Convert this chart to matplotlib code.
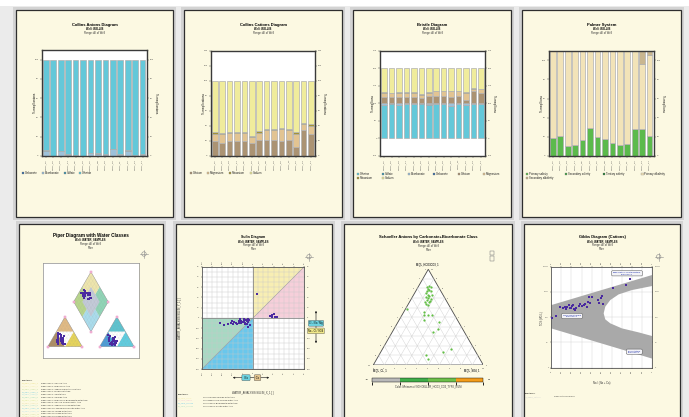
import numpy as np
import matplotlib.pyplot as plt
from matplotlib.patches import Rectangle, Polygon, Circle
from matplotlib.colors import ListedColormap, BoundaryNorm
from matplotlib.cm import ScalarMappable

plt.rcParams["font.family"] = ["Liberation Sans", "DejaVu Sans"]

W, H = 689, 417

# ---------------- bar chart data (% meq/l per sample) ----------------
samples = ["WELL_01", "WELL_02", "WELL_03", "WELL_04", "WELL_05", "WELL_06", "WELL_07",
           "WELL_08", "WELL_09", "WELL_10", "WELL_11", "WELL_12", "WELL_13", "WELL_14"]

carbonate = [0.0, 0.0, 0.0, 0.0, 0.0, 0.0, 0.0, 0.0, 0.0, 0.0, 0.0, 0.0, 0.0, 0.0]
bicarbonate = [5.0, 0.3, 5.0, 1.5, 0.5, 0.2, 3.0, 2.5, 0.8, 7.0, 1.5, 5.0, 0.5, 0.8]
sulfate = [1.0, 0.2, 0.6, 0.8, 0.8, 0.3, 0.5, 0.6, 0.8, 0.6, 0.5, 1.0, 0.5, 1.0]
chloride = [94.0, 99.5, 94.4, 97.7, 98.7, 99.5, 96.5, 96.9, 98.4, 92.4, 98.0, 94.0, 99.0, 98.2]

calcium = [19.5, 17.0, 19.5, 19.5, 19.5, 16.4, 20.4, 20.4, 20.4, 19.0, 21.0, 11.0, 34.0, 29.0]
magnesium = [10.1, 12.0, 11.5, 11.0, 11.0, 8.6, 10.1, 14.1, 13.6, 16.4, 13.0, 18.6, 8.0, 11.0]
potassium = [1.8, 1.0, 1.3, 1.5, 1.5, 2.0, 2.5, 1.5, 1.4, 1.3, 2.0, 1.8, 2.0, 2.0]
sodium = [68.6, 70.0, 67.7, 68.0, 68.0, 73.0, 67.0, 64.0, 64.6, 63.3, 64.0, 68.6, 56.0, 58.0]

primary_salinity = [19.0, 21.0, 10.5, 12.0, 17.0, 29.0, 20.0, 18.0, 14.0, 11.5, 13.0, 28.7, 28.7, 21.0]
secondary_salinity = [0, 0, 0, 0, 0, 0, 0, 0, 0, 0, 0, 0, 0, 0]
tertiary_salinity = [0, 0, 0, 0, 0, 0, 0, 0, 0, 0, 0, 0, 0, 0]
primary_alkalinity = [91.0, 89.0, 99.5, 98.0, 93.0, 81.0, 90.0, 92.0, 96.0, 98.5, 97.0, 81.3, 67.8, 84.0]
secondary_alkalinity = [0, 0, 0, 0, 0, 0, 0, 0, 0, 0, 0, 0, 13.5, 5.0]

# ---------------- Piper samples (%) ----------------
piper_mg = [10, 15, 20, 25, 30, 35, 40, 45, 12, 18, 22, 28, 32, 38, 8, 14, 20, 26, 30, 16, 24, 42, 10, 36]
piper_na = [25, 22, 20, 18, 15, 12, 10, 8, 35, 30, 28, 25, 22, 20, 40, 38, 35, 32, 30, 18, 14, 15, 45, 28]
piper_so4 = [15, 10, 20, 12, 25, 30, 35, 18, 8, 14, 22, 28, 5, 10, 16, 6, 20, 32, 12, 24, 38, 8, 18, 26]
piper_cl = [28, 26, 30, 28, 25, 12, 14, 18, 38, 40, 32, 26, 32, 36, 36, 42, 38, 28, 40, 14, 6, 32, 40, 30]

# ---------------- Sulin samples ----------------
sulin_x = [-32.6, -28.3, -24.1, -21.8, -20.2, -18.6, -16.9, -14.3, -12.7, -11.4, -10.4, -9.4, -8.8,
           -7.8, -7.2, -6.5, -6.2, -5.5, -4.6, -3.9, -3.3, -5.5, -8.1, -11.7, -13.7, -15.6, -19.5,
           3.6, 16.6, 18.9, 20.5, 22.1, 23.8, 21.2, 18.2]
sulin_y = [-5.5, -7.2, -6.2, -4.6, -3.3, -3.9, -5.2, -2.9, -1.6, -2.6, -3.9, -1.6, -2.9,
           -4.6, -2.0, -5.9, -3.3, -1.3, -3.9, -2.3, -7.2, -8.8, -6.5, -4.6, -4.9, -6.2, -5.9,
           23.8, 1.6, 2.6, 3.3, 1.0, 0.7, 0.7, 1.0]

# ---------------- Schoeller ternary samples (%) ----------------
sch_hco3 = [82, 83, 81, 79, 77, 78, 77, 75, 73, 72, 71, 70, 69, 68, 66, 66, 64, 63, 67, 73,
            58, 55, 52, 52, 52, 47, 45, 38, 34, 17, 14, 10, 6]
sch_so4 = [8, 9, 12, 10, 10, 12, 14, 10, 13, 15, 12, 15, 18, 15, 14, 18, 16, 18, 18, 17,
           2, 19, 20, 24, 27, 23, 37, 40, 37, 62, 56, 43, 47]
sch_classes = [-0.5, 0.5, 1.5, 2.5, 3.5]
sch_colors = ["#b9b9b9", "#3fae49", "#6cc04a", "#f39c1a"]

# ---------------- Gibbs samples ----------------
gibbs_ratio = [0.007, 0.05, 0.089, 0.113, 0.132, 0.146, 0.159, 0.172, 0.182, 0.192, 0.205, 0.212,
               0.222, 0.232, 0.245, 0.272, 0.288, 0.305, 0.321, 0.338, 0.354, 0.364, 0.371, 0.387,
               0.404, 0.464, 0.477, 0.497, 0.503, 0.513, 0.609, 0.742, 0.785]
gibbs_tds = [90, 115, 253, 224, 245, 210, 260, 295, 240, 224, 270, 303, 210, 198, 240, 277, 323,
             285, 303, 342, 260, 386, 647, 375, 610, 480, 375, 590, 710, 342, 1480, 1880, 3160]
gibbs_poly_ratio = [0.0, 1.0, 1.0, 0.801, 0.669, 0.586, 0.536, 0.52, 0.536, 0.586, 0.702, 0.868,
                    1.0, 1.0, 0.0]
gibbs_poly_tds = [302, 4680, 1715, 1190, 802, 479, 261, 142, 82, 57, 36, 25, 18, 2.3, 36]


def box(x0, y0, x1, y1):
    return [x0 / W, 1 - y1 / H, (x1 - x0) / W, (y1 - y0) / H]


fig = plt.figure(figsize=(W / 100, H / 100), dpi=100, facecolor="#ebebeb")

back = fig.add_axes([0, 0, 1, 1], zorder=-10)
back.set_xlim(0, W)
back.set_ylim(H, 0)
back.axis("off")
back.add_patch(Rectangle((0, 0), W, 6, fc="white", ec="none"))
panels = [(16, 10, 173, 217), (184, 10, 342, 217), (353, 10, 511, 217), (522, 10, 681, 217),
          (19, 224, 163, 425), (176, 224, 332, 425), (344, 224, 512, 425), (524, 224, 680, 425)]
for x0, y0, x1, y1 in panels:
    back.add_patch(Rectangle((x0 - 3, y0 - 3), x1 - x0 + 6, y1 - y0 + 6, fc="#d3d3d3", ec="none"))
    back.add_patch(Rectangle((x0, y0), x1 - x0, y1 - y0, fc="#fcf9e2", ec="#2e2e2e", lw=0.9))

top = fig.add_axes([0, 0, 1, 1], zorder=20)
top.set_xlim(0, W)
top.set_ylim(H, 0)
top.axis("off")
top.patch.set_visible(False)


def txt(x, y, s, size, **kw):
    kw.setdefault("ha", "center")
    kw.setdefault("va", "center")
    top.text(x, y, s, fontsize=size, **kw)


def titles(cx, y, lines, size):
    for i, s in enumerate(lines):
        if i == 0:
            txt(cx, y, s, size, weight="bold")
        elif i == 1:
            txt(cx, y + 4.6 + (i - 1) * 4, s, 1.9, weight="bold")
        else:
            txt(cx, y + 4.6 + (i - 1) * 4, s, 1.9, color="#333333")


def legend_items(xs, ys, labels, colors):
    for x, y, lab, col in zip(xs, ys, labels, colors):
        top.add_patch(Rectangle((x, y - 1.1), 2.2, 2.2, fc=col, ec="#777777", lw=0.2))
        txt(x + 3.2, y, lab, 2.0, ha="left", color="#222222")


def crosshair(x, y):
    top.add_patch(Circle((x, y), 2.2, fill=False, ec="#8a8a8a", lw=0.4))
    top.plot([x - 4, x + 4], [y, y], color="#8a8a8a", lw=0.4)
    top.plot([x, x], [y - 4, y + 4], color="#8a8a8a", lw=0.4)


def style_spines(ax, lw=1.0, color="#3a3a3a"):
    for sp in ax.spines.values():
        sp.set_linewidth(lw)
        sp.set_color(color)


def bar_panel(rect, stacks, colors, ylim, yticks, ylabel):
    ax = fig.add_axes(box(*rect))
    x = np.arange(len(samples))
    base = np.zeros(len(samples))
    for vals, col in zip(stacks, colors):
        ax.bar(x, vals, bottom=base, width=0.76, color=col, edgecolor="#b0b0b0", linewidth=0.5)
        base = base + np.asarray(vals, dtype=float)
    ax.set_xlim(-0.55, len(samples) - 0.45)
    ax.set_ylim(*ylim)
    ax.set_yticks(yticks)
    ax.set_xticks(x)
    ax.set_xticklabels(samples, rotation=90)
    ax.tick_params(length=1.2, width=0.3, pad=1, labelsize=1.7, right=True, labelright=True,
                   colors="#444444")
    style_spines(ax)
    ax.text(-0.065, 0.5, ylabel, transform=ax.transAxes, rotation=90, fontsize=2.1,
            ha="center", va="center")
    ax.text(1.09, 0.5, ylabel, transform=ax.transAxes, rotation=270, fontsize=2.1,
            ha="center", va="center")
    return ax


# ---------------- top row ----------------
heads = [(94.5, "Collins Anions Diagram"), (263, "Collins Cations Diagram"),
         (432, "Bristle Diagram"), (601.5, "Palmer System")]
for cx, t in heads:
    titles(cx, 24.5, [t, "Well: WELL06", "Range: All of Well"], 3.0)

anion_cols = ["#356aa3", "#9dc1da", "#3d93ad", "#64c8d9"]
bar_panel((41.7, 50, 146.7, 156), [carbonate, bicarbonate, sulfate, chloride], anion_cols,
          (0, 110), np.arange(0, 101, 20), "% meq/l anions")
legend_items([21.7, 42, 64, 79], [173] * 4, ["Carbonate", "Bicarbonate", "Sulfate", "Chloride"],
             anion_cols)

cation_cols = ["#ab9373", "#e2c492", "#a39338", "#f0ec9c"]
bar_panel((210.7, 51, 315, 155.7), [calcium, magnesium, potassium, sodium], cation_cols,
          (0, 140), np.arange(0, 141, 20), "% meq/l cations")
legend_items([189.7, 207, 229, 250], [173.3] * 4, ["Calcium", "Magnesium", "Potassium", "Sodium"],
             cation_cols)

bristle_cols = ["#64c8d9", "#3d93ad", "#9dc1da", "#356aa3"] + cation_cols
bar_panel((380, 51, 485, 155.7),
          [chloride, sulfate, bicarbonate, carbonate, calcium, magnesium, potassium, sodium],
          bristle_cols, (-50, 250), np.arange(-50, 251, 50), "% meq/l ions")
legend_items([356.7, 381.7, 408, 433, 458, 483, 356.7, 381.7],
             [174.3] * 6 + [177.9] * 2,
             ["Chlorine", "Sulfate", "Bicarbonate", "Carbonate", "Calcium", "Magnesium",
              "Potassium", "Sodium"],
             bristle_cols)

palmer_cols = ["#5cba4c", "#3f9f41", "#1f7a30", "#f2e3b8", "#c9b68f"]
bar_panel((548.7, 50.7, 653.7, 156),
          [primary_salinity, secondary_salinity, tertiary_salinity, primary_alkalinity,
           secondary_alkalinity],
          palmer_cols, (0, 110), np.arange(0, 101, 20), "% meq/l ions")
legend_items([526, 564.7, 603, 641.3, 526], [174.3] * 4 + [177.9],
             ["Primary salinity", "Secondary salinity", "Tertiary salinity",
              "Primary alkalinity", "Secondary alkalinity"],
             palmer_cols)

# ---------------- Piper ----------------
titles(90.7, 235, ["Piper Diagram with Water Classes", "Well: WATER_SAMPLES",
                   "Range: All of Well", "Filter"], 3.3)
crosshair(144, 254)
hh = np.sqrt(3) / 2
gap = 0.5
pax = fig.add_axes(box(42.7, 262.7, 139, 358))
pax.set_xlim(-0.145, 2.64)
pax.set_ylim(-0.327, 2.43)
pax.set_xticks([])
pax.set_yticks([])
style_spines(pax, 0.5, "#8c8c8c")


def tri_regions(ox, cols):
    a, b, c = (ox, 0), (ox + 1, 0), (ox + 0.5, hh)
    ab, bc, ca = (ox + 0.5, 0), (ox + 0.75, hh / 2), (ox + 0.25, hh / 2)
    for pts, col in zip([[a, ab, ca], [ab, b, bc], [ca, bc, c], [ab, bc, ca]], cols):
        pax.add_patch(Polygon(pts, fc=col, ec="none"))
    for k in np.arange(0.1, 1.0, 0.1):
        pax.plot([ox + k / 2, ox + 1 - k / 2], [k * hh, k * hh], color="#9a9a9a", lw=0.12, ls=":")
        pax.plot([ox + k, ox + k + (1 - k) / 2], [0, (1 - k) * hh], color="#9a9a9a", lw=0.12, ls=":")
        pax.plot([ox + 1 - k, ox + (1 - k) / 2], [0, (1 - k) * hh], color="#9a9a9a", lw=0.12, ls=":")
    pax.add_patch(Polygon([a, b, c], fill=False, ec="#8a8a8a", lw=0.3))
    for v in (a, b, c):
        pax.plot(*v, marker="s", ms=1.8, mfc="#f7c9e2", mec="#e27cb6", mew=0.3)


tri_regions(0, ["#ad8d64", "#e7d55a", "#e2bb84", "white"])
tri_regions(1 + gap, ["#4b9bd6", "#5fcde0", "#5cc4d0", "white"])

db = np.array([1 + gap / 2, gap * hh])
dl, dr, dt = db + [-0.5, hh], db + [0.5, hh], db + [0, 2 * hh]
cc = db + [0, hh]
mbl, mbr = db + [-0.25, hh / 2], db + [0.25, hh / 2]
mtl, mtr = db + [-0.25, 1.5 * hh], db + [0.25, 1.5 * hh]
for pts, col in [([db, mbr, cc, mbl], "#aadcec"), ([mbl, cc, mtl, dl], "#b8d58c"),
                 ([mbr, dr, mtr, cc], "#90d4b6"), ([cc, mtr, dt, mtl], "#ede5ad"),
                 ([db + [0, hh / 2], cc + [0.25, 0], db + [0, 1.5 * hh], cc + [-0.25, 0]], "#c3cad8")]:
    pax.add_patch(Polygon(pts, fc=col, ec="none"))
for k in np.arange(0.1, 1.0, 0.1):
    p = db + k * (dr - db)
    pax.plot([p[0], p[0] - 0.5], [p[1], p[1] + hh], color="#9a9a9a", lw=0.12, ls=":")
    p = db + k * (dl - db)
    pax.plot([p[0], p[0] + 0.5], [p[1], p[1] + hh], color="#9a9a9a", lw=0.12, ls=":")
pax.add_patch(Polygon([db, dr, dt, dl], fill=False, ec="#8a8a8a", lw=0.3))
for v in (db, dr, dt, dl):
    pax.plot(*v, marker="s", ms=1.8, mfc="#f7c9e2", mec="#e27cb6", mew=0.3)

mg = np.array(piper_mg) / 100
na = np.array(piper_na) / 100
so4 = np.array(piper_so4) / 100
cl = np.array(piper_cl) / 100
x1, y1 = na + mg / 2, mg * hh
x2, y2 = 1 + gap + cl + so4 / 2, so4 * hh
t = (x2 - x1) + (y2 - y1) / (2 * hh)
xd, yd = x1 + 0.5 * t, y1 + hh * t
for xs, ys in [(x1, y1), (x2, y2), (xd, yd)]:
    pax.scatter(xs, ys, s=1.3, color="#4a2aa0", marker="s", lw=0, zorder=5)

txt(21.7, 380.7, "Functions:", 1.7, ha="left")
piper_rows = ["Piper class 1: Calcium type", "Piper class 2: Magnesium type",
              "Piper class 3: Sodium and Potassium type", "Piper class 4: Bicarbonate type",
              "Piper class 5: Sulfate type", "Piper class 6: Chloride type",
              "Piper class 7: Magnesium Bicarbonate water type",
              "Piper class 8: Calcium Chloride water type",
              "Piper class 9: Sodium Chloride water type",
              "Piper class 10: Sodium Bicarbonate water type",
              "Piper class 11: Mixed water type", "Piper class 12: Mixed water type",
              "Piper class 13: Mixed water type"]
row_cols = ["#e9dc7a", "#efe6a8", "#b9d68e", "#6fc8e0", "#9ad8e8", "#8fd4b6", "#d8e48c",
            "#e8d9a0", "#9fd6c4", "#7ccde4", "#b8e0ee", "#c8d890", "#e6e0b0"]
for i, (s, c) in enumerate(zip(piper_rows, row_cols)):
    txt(21.7, 383.6 + i * 2.75, "sw_piper_class_%d" % (i + 1), 1.5, ha="left", color=c)
    txt(40.7, 383.6 + i * 2.75, s, 1.5, ha="left", color="#333333")

# ---------------- Sulin ----------------
titles(253.3, 236.7, ["Sulin Diagram", "Well: WATER_SAMPLES", "Range: All of Well", "Filter"], 2.6)
crosshair(309, 256.7)
sax = fig.add_axes(box(202, 266.7, 304.3, 369))
sax.set_xlim(-50, 50)
sax.set_ylim(-50, 50)
sax.fill([0, 0, 50], [0, 50, 50], color="#f8eeb3", lw=0, zorder=0)
sax.fill([0, 50, 50], [0, 50, 0], color="#f6cfda", lw=0, zorder=0)
sax.fill([0, -50, -50], [0, 0, -50], color="#a7d9c3", lw=0, zorder=0)
sax.fill([0, -50, 0], [0, -50, -50], color="#69c7ec", lw=0, zorder=0)
sax.set_xticks(np.arange(-50, 51, 10))
sax.set_yticks(np.arange(-50, 51, 10))
sax.set_xticks(np.arange(-45, 50, 10), minor=True)
sax.set_yticks(np.arange(-45, 50, 10), minor=True)
sax.grid(which="both", color="#c9c9c9", lw=0.3)
sax.plot([-50, 50], [-50, 50], color="#9a9a9a", lw=0.4)
sax.axhline(0, color="#8a8a8a", lw=0.6)
sax.axvline(0, color="#8a8a8a", lw=0.6)
sax.scatter(sulin_x, sulin_y, s=1.3, color="#4a2aa0", marker="s", lw=0, zorder=5)
sax.tick_params(which="both", length=1.0, width=0.3, pad=1, labelsize=1.5, top=True,
                labeltop=True, right=True, labelright=True, colors="#444444")
sax.tick_params(axis="x", labelrotation=90)
sax.tick_params(which="minor", length=0)
style_spines(sax, 0.6, "#555555")
txt(253, 393, "WATER_ANALYSIS:SULIN_X_1 [ ]", 1.9, color="#333333")
txt(180, 318, "WATER_ANALYSIS:SULIN_Y_1 [ ]", 1.9, color="#333333", rotation=90)
top.annotate("", xy=(316, 308), xytext=(316, 346),
             arrowprops=dict(arrowstyle="<|-|>", lw=0.45, color="#222222", mutation_scale=2.5))
txt(316, 323.3, "Cl - Na / Mg", 1.8, bbox=dict(boxstyle="round,pad=0.35", fc="#6fd3e0",
                                                ec="#555555", lw=0.3))
txt(316, 330.9, "Na - Cl / SO4", 1.8, bbox=dict(boxstyle="round,pad=0.35", fc="#f2e98a",
                                                 ec="#555555", lw=0.3))
top.annotate("", xy=(230, 377.7), xytext=(272, 377.7),
             arrowprops=dict(arrowstyle="<|-|>", lw=0.45, color="#222222", mutation_scale=2.5))
txt(246, 377.7, "  Na  ", 1.8, bbox=dict(boxstyle="round,pad=0.4", fc="#6fd3e0", ec="#555555", lw=0.3))
txt(257.5, 377.7, " Ca ", 1.8, bbox=dict(boxstyle="round,pad=0.4", fc="#e3c48e", ec="#555555", lw=0.3))
txt(177.7, 394.3, "Functions:", 1.7, ha="left")
sulin_rows = ["Sulin Calcium Chloride water type", "Sulin Magnesium Chloride water type",
              "Sulin Sodium Bicarbonate water type", "Sulin Sodium Sulfate water type"]
sulin_tags = ["sw_sulin_cacl2", "sw_sulin_mgcl2", "sw_sulin_nahco3", "sw_sulin_na2so4"]
for i, (s, tg, c) in enumerate(zip(sulin_rows, sulin_tags, ["#f2e7a0", "#f3c9d6", "#68c7ec", "#a7d9c3"])):
    txt(177.7, 397.8 + i * 2.75, tg, 1.5, ha="left", color=c)
    txt(203.3, 397.8 + i * 2.75, s, 1.5, ha="left", color="#333333")

# ---------------- Schoeller ternary ----------------
titles(428.3, 237.3, ["Schoeller Anions by Carbonate+Bicarbonate Class", "Well: WATER_SAMPLES",
                      "Range: All of Well", "Filter"], 3.0)
top.add_patch(Rectangle((490, 251), 4.4, 4.4, fill=False, ec="#777777", lw=0.35))
top.add_patch(Rectangle((490, 256.2), 4.4, 4.4, fill=False, ec="#777777", lw=0.35))
tax = fig.add_axes(box(373.3, 269.3, 483.3, 365))
tax.set_xlim(0, 100)
tax.set_ylim(0, 100 * hh)
tax.axis("off")
tax.add_patch(Polygon([[0, 0], [100, 0], [50, 100 * hh]], fc="white", ec="none"))
for k in range(10, 100, 10):
    tax.plot([k / 2, 100 - k / 2], [k * hh, k * hh], color="#cfcfcf", lw=0.3)
    tax.plot([k, k + (100 - k) / 2], [0, (100 - k) * hh], color="#cfcfcf", lw=0.3)
    tax.plot([100 - k, (100 - k) / 2], [0, (100 - k) * hh], color="#cfcfcf", lw=0.3)
tax.add_patch(Polygon([[0, 0], [100, 0], [50, 100 * hh]], fill=False, ec="#4a4a4a", lw=0.6))
for k in range(0, 101, 10):
    tax.text(k, -2.5, str(k), fontsize=1.4, ha="center", va="top", clip_on=False, color="#444444")
    tax.text(k / 2 - 2, k * hh, str(100 - k), fontsize=1.4, ha="right", va="center", clip_on=False,
             color="#444444")
    tax.text(100 - k / 2 + 2, k * hh, str(k), fontsize=1.4, ha="left", va="center", clip_on=False,
             color="#444444")
hco3 = np.array(sch_hco3, dtype=float)
s4 = np.array(sch_so4, dtype=float)
tax.scatter(s4 + hco3 / 2, hco3 * hh, s=2.6, color="#62bf45", lw=0, zorder=5, clip_on=False)
txt(428, 265, "MEQL_HCO3CO3_1", 1.8, weight="bold", color="#333333")
txt(380.7, 370.7, "MEQL_CL_1", 1.8, weight="bold", color="#333333")
txt(472.3, 370.7, "MEQL_SO4_1", 1.8, weight="bold", color="#333333")
cax = fig.add_axes(box(372.3, 378.3, 483.3, 381.7))
cb = fig.colorbar(ScalarMappable(norm=BoundaryNorm(sch_classes, len(sch_colors)),
                                 cmap=ListedColormap(sch_colors)),
                  cax=cax, orientation="horizontal")
cb.set_ticks([])
cb.outline.set_linewidth(0.3)
txt(367, 380, "-0.5", 1.6)
txt(489, 380, "3.5", 1.6)
txt(428, 386.7, "Color: Minimum of SCHOELLER_HCO3_CO3_TYPE_NUM", 1.8, color="#333333")

# ---------------- Gibbs ----------------
titles(602, 236.7, ["Gibbs Diagram (Cations)", "Well: WATER_SAMPLES", "Range: All of Well",
                    "Filter"], 2.9)
crosshair(658.7, 256.7)
gax = fig.add_axes(box(551.3, 266.7, 652, 367.7))
gax.set_yscale("log")
gax.set_xlim(0, 1)
gax.set_ylim(1, 10000)
gax.fill(gibbs_poly_ratio, gibbs_poly_tds, color="#a9a9a9", lw=0, zorder=1)
gax.set_xticks(np.arange(0, 1.01, 0.1))
gax.set_xticklabels(["0", "0.1", "0.2", "0.3", "0.4", "0.5", "0.6", "0.7", "0.8", "0.9", "1"])
gax.set_yticks([1, 10, 100, 1000, 10000])
gax.set_yticklabels(["1", "10", "100", "1000", "10000"])
gax.minorticks_off()
gax.grid(color="#cfcfcf", lw=0.3, zorder=0)
gax.set_axisbelow(True)
gax.scatter(gibbs_ratio, gibbs_tds, s=1.3, color="#4a2aa0", marker="s", lw=0, zorder=5)
gax.tick_params(length=1.0, width=0.3, pad=1, labelsize=1.5, top=True, labeltop=True,
                right=True, labelright=True, colors="#444444")
gax.tick_params(axis="x", labelrotation=90)
style_spines(gax, 0.6, "#555555")
lab_box = dict(boxstyle="round,pad=0.6", fc="#f3f3f7", ec="#555555", lw=0.35)
txt(627, 273.3, "Evaporation-crystallization\ndominance", 1.7, color="#2233aa", bbox=lab_box)
txt(572, 316, "Rock weathering\ndominance", 1.7, color="#2233aa", bbox=lab_box)
txt(634.3, 351.7, "Precipitation\ndominance", 1.7, color="#2233aa", bbox=lab_box)
txt(542, 318, "TDS (MG/L)", 1.8, rotation=90, color="#333333")
txt(602, 383.3, "Na / (Na + Ca)", 1.9, color="#333333")
txt(524.7, 393.3, "Functions:", 1.7, ha="left")
txt(524.7, 396.7, "sw_gibbs_cations", 1.5, ha="left", color="#cfcfcf")
txt(553.7, 396.7, "Gibbs cations polygon", 1.5, ha="left", color="#333333")

fig.savefig("out.png", dpi=100, facecolor=fig.get_facecolor())
